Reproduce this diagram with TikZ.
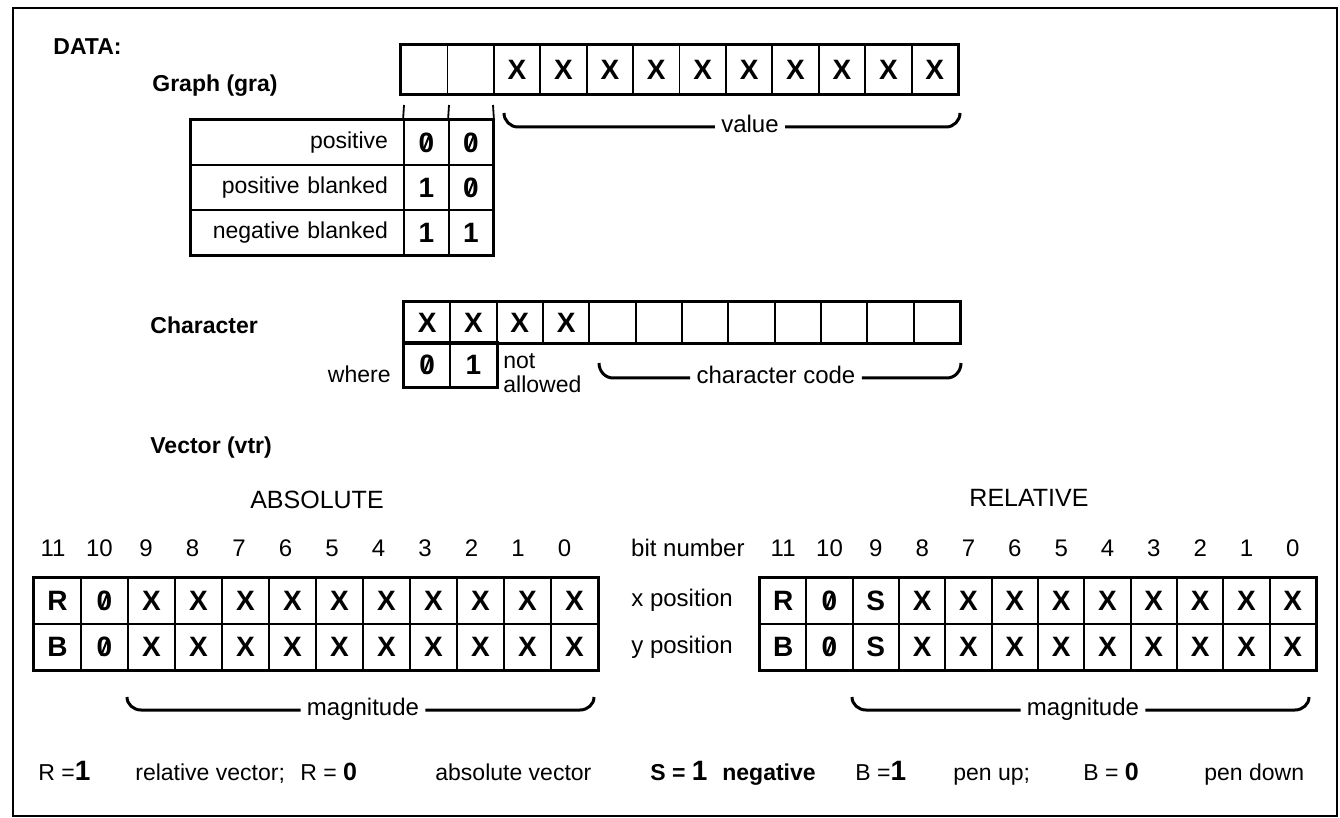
\documentclass[tikz,border=0pt]{standalone}
\usepackage{fontspec}
\setmainfont{Liberation Sans}
\usetikzlibrary{calc}
\newcommand\cf{\bfseries\fontsize{14}{16}\selectfont}
\newcommand\rf{\fontsize{12}{14}\selectfont}
\newcommand\tf{\fontsize{11.5}{13.5}\selectfont}
\newcommand\lf{\bfseries\fontsize{11.5}{13.5}\selectfont}
\newcommand\gf{\fontsize{11.5}{13.5}\selectfont}
\newcommand\bigone{\textbf{\fontsize{14}{16}\selectfont 1}}
\tikzset{
  cell/.style={draw, line width=0.9pt, inner sep=0pt, font=\cf},
  slz/.style={path picture={\draw[line width=1pt] ([shift={(-1.7pt,-4.3pt)}]path picture bounding box.center) -- ([shift={(1.7pt,4.3pt)}]path picture bounding box.center);}},
  lbl/.style={font=\lf, anchor=west, inner sep=0pt},
  txt/.style={font=\rf, inner sep=0pt},
  brc/.style={line width=1.5pt},
  btxt/.style={font=\rf, anchor=mid, inner xsep=3pt, inner ysep=0pt},
  outer/.style={line width=1.3pt},
  leg/.style={font=\gf, anchor=base west, inner sep=0pt},
}
\begin{document}
\begin{tikzpicture}[x=0.5pt,y=-0.5pt]
\useasboundingbox (0,0) rectangle (1340,818);
\fill[white] (0,0) rectangle (1340,818);
\draw[line width=1.4pt] (13,8) rectangle (1337,816);

% labels
\node[lbl] (data) at (53,47) {DATA:};
\node[lbl] (gra) at (152,86) {Graph (gra)};
\node[lbl] (chr) at (150,325) {Character};
\node[lbl] (vtr) at (150,448) {Vector (vtr)};

% graph register
\foreach \i in {0,...,11}{
  \node[cell, minimum width=23.21pt, minimum height=24.5pt] (g\i) at ({401+46.42*(\i+0.5)},69.5) {\ifnum\i>1 X\fi};
}
\draw[outer] (g0.north west) rectangle (g11.south east);

% table
\node[cell, font=\tf, minimum height=22.5pt, text width=90.5pt, inner xsep=8pt, align=right] (t1) at (297.5,142.5) {positive};
\node[cell, font=\tf, minimum height=22.5pt, text width=90.5pt, inner xsep=8pt, align=right] (t2) at (297.5,187.5) {positive blanked};
\node[cell, font=\tf, minimum height=22.5pt, text width=90.5pt, inner xsep=8pt, align=right] (t3) at (297.5,232.5) {negative blanked};
\node[cell, slz, minimum width=22.5pt, minimum height=22.5pt] (t1a) at (426.5,142.5) {0};
\node[cell, slz, minimum width=22pt, minimum height=22.5pt] (t1b) at (471,142.5) {0};
\node[cell, minimum width=22.5pt, minimum height=22.5pt] (t2a) at (426.5,187.5) {1};
\node[cell, slz, minimum width=22pt, minimum height=22.5pt] (t2b) at (471,187.5) {0};
\node[cell, minimum width=22.5pt, minimum height=22.5pt] (t3a) at (426.5,232.5) {1};
\node[cell, minimum width=22pt, minimum height=22.5pt] (t3b) at (471,232.5) {1};
\draw[outer] (t1.north west) rectangle (t3b.south east);
\coordinate (k1) at (404,105);
\coordinate (k2) at (449,105);
\coordinate (k3) at (493,105);
\draw[line width=0.9pt] (k1) -- (t1a.north west);
\draw[line width=0.9pt] (k2) -- (t1b.north west);
\draw[line width=0.9pt] (k3) -- (t1b.north east);

% value brace
\coordinate (vL) at (504,113);
\coordinate (vR) at (960,113);
\node[btxt] (val) at (750,127) {value};
\draw[brc] (vL) to[out=-90,in=180] ++(14,14) -- (val.mid west);
\draw[brc] (vR) to[out=-90,in=0] ++(-14,14) -- (val.mid east);

% character register
\foreach \i in {0,...,11}{
  \node[cell, minimum width=23.17pt, minimum height=20.5pt] (c\i) at ({404+46.33*(\i+0.5)},322.5) {\ifnum\i<4 X\fi};
}
\draw[outer] (c0.north west) rectangle (c11.south east);
\node[cell, slz, minimum width=23.17pt, minimum height=22pt] (z0) at (427.17,365) {0};
\node[cell, minimum width=23.17pt, minimum height=22pt] (z1) at (473.5,365) {1};
\draw[outer] (z0.north west) rectangle (z1.south east);
\node[txt, font=\tf, anchor=east] (wh) at (391,374) {where};
\node[txt, font=\tf, anchor=base west] (nt) at (503,369) {not};
\node[txt, font=\tf, anchor=base west] (al) at (503,393) {allowed};
\coordinate (cL) at (599,363);
\coordinate (cR) at (961,363);
\node[btxt] (cc) at (776,378) {character code};
\draw[brc] (cL) to[out=-90,in=180] ++(14,15) -- (cc.mid west);
\draw[brc] (cR) to[out=-90,in=0] ++(-14,15) -- (cc.mid east);

% titles
\node[txt, font=\fontsize{12.5}{15}\selectfont] (abs) at (317,500) {ABSOLUTE};
\node[txt, font=\fontsize{12.5}{15}\selectfont] (rel) at (1029,498) {RELATIVE};

% bit numbers
\foreach \i in {0,...,11}{
  \pgfmathtruncatemacro\n{11-\i}
  \node[txt] (an\i) at ({53+46.5*\i},548) {\n};
  \node[txt] (rn\i) at ({783.2+46.33*\i},548) {\n};
}
\node[txt, anchor=east] (bn) at (745,548) {bit number};
\node[txt, anchor=west] (xp) at (631,600) {x position};
\node[txt, anchor=west] (yp) at (631,647) {y position};

% absolute register
\node[cell, minimum width=23.5pt, minimum height=23pt] (a0) at (57.5,601) {R};
\node[cell, slz, minimum width=23.5pt, minimum height=23pt] (a1) at (104.5,601) {0};
\node[cell, minimum width=23.5pt, minimum height=23pt] (b0) at (57.5,647) {B};
\node[cell, slz, minimum width=23.5pt, minimum height=23pt] (b1) at (104.5,647) {0};
\foreach \i in {2,...,11}{
  \node[cell, minimum width=23.5pt, minimum height=23pt] (a\i) at ({34+47*(\i+0.5)},601) {X};
  \node[cell, minimum width=23.5pt, minimum height=23pt] (b\i) at ({34+47*(\i+0.5)},647) {X};
}
\draw[outer] (a0.north west) rectangle (b11.south east);

% relative register
\node[cell, minimum width=23.17pt, minimum height=23pt] (p0) at (783.17,601) {R};
\node[cell, slz, minimum width=23.17pt, minimum height=23pt] (p1) at (829.5,601) {0};
\node[cell, minimum width=23.17pt, minimum height=23pt] (p2) at (875.83,601) {S};
\node[cell, minimum width=23.17pt, minimum height=23pt] (q0) at (783.17,647) {B};
\node[cell, slz, minimum width=23.17pt, minimum height=23pt] (q1) at (829.5,647) {0};
\node[cell, minimum width=23.17pt, minimum height=23pt] (q2) at (875.83,647) {S};
\foreach \i in {3,...,11}{
  \node[cell, minimum width=23.17pt, minimum height=23pt] (p\i) at ({760+46.33*(\i+0.5)},601) {X};
  \node[cell, minimum width=23.17pt, minimum height=23pt] (q\i) at ({760+46.33*(\i+0.5)},647) {X};
}
\draw[outer] (p0.north west) rectangle (q11.south east);

% magnitude braces
\coordinate (mL) at (127,697);
\coordinate (mR) at (594,697);
\node[btxt] (m1) at (363,710) {magnitude};
\draw[brc] (mL) to[out=-90,in=180] ++(14,13) -- (m1.mid west);
\draw[brc] (mR) to[out=-90,in=0] ++(-14,13) -- (m1.mid east);
\coordinate (nL) at (852,697);
\coordinate (nR) at (1309,697);
\node[btxt] (m2) at (1083,710) {magnitude};
\draw[brc] (nL) to[out=-90,in=180] ++(14,13) -- (m2.mid west);
\draw[brc] (nR) to[out=-90,in=0] ++(-14,13) -- (m2.mid east);

% legend
\node[leg] (l1) at (38,780) {R =\bigone};
\node[leg] (l2) at (135,780) {relative vector;};
\node[leg] (l3) at (300,780) {R = \textbf{\fontsize{12.5}{14}\selectfont 0}};
\node[leg] (l4) at (435,780) {absolute vector};
\node[leg] (l5) at (650,780) {\textbf{S = \fontsize{14}{16}\selectfont 1}};
\node[leg] (l6) at (722,780) {\textbf{negative}};
\node[leg] (l7) at (855,780) {B =\bigone};
\node[leg] (l8) at (953,780) {pen up;};
\node[leg] (l9) at (1083,780) {B = \textbf{\fontsize{12.5}{14}\selectfont 0}};
\node[leg] (l10) at (1204,780) {pen down};
\end{tikzpicture}
\end{document}
